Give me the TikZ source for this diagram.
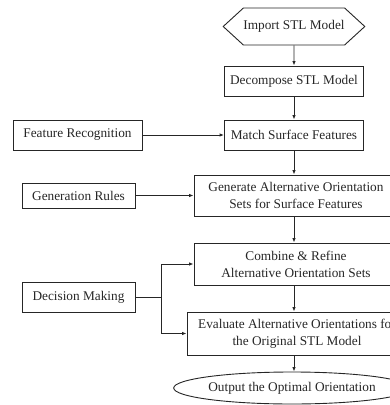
\documentclass[tikz,border=0pt]{standalone}
\usepackage{fontspec}
\setmainfont{Liberation Serif}
\usetikzlibrary{arrows.meta,shapes.geometric,shapes.symbols}

\tikzset{
	stepbox/.style={draw=black!85, line width=0.9pt, rectangle, inner sep=0pt, align=center, text=black!85, font=\fontsize{13.3}{17}\selectfont},
	hexbox/.style={stepbox, signal, signal to=west and east, signal pointer angle=85},
	endbox/.style={stepbox, ellipse},
	arr/.style={draw=black!85, line width=0.9pt, -{Latex[length=4.5pt,width=3.5pt]}},
}

\begin{document}
\begin{tikzpicture}[x=1pt, y=-1pt]
			%%%%% START %%%%%
			
			\useasboundingbox (0, 0) rectangle (390, 405);
			
			\node[hexbox, minimum width=134pt, minimum height=37pt] (import) at (294, 26.5) {Import STL Model};
			\node[stepbox, minimum width=139pt, minimum height=30pt] (decomp) at (294, 81) {Decompose STL Model};
			\node[stepbox, minimum width=139pt, minimum height=30pt] (match) at (294, 135) {Match Surface Features};
			\node[stepbox, minimum width=204pt, minimum height=41pt] (gener) at (296, 195.5) {Generate Alternative Orientation\\Sets for Surface Features};
			\node[stepbox, minimum width=204pt, minimum height=42pt] (combine) at (296, 264) {Combine \& Refine\\Alternative Orientation Sets};
			\node[stepbox, minimum width=220pt, minimum height=43pt] (eval) at (297, 333.5) {Evaluate Alternative Orientations for\\the Original STL Model};
			\node[endbox, minimum width=194pt, minimum height=32pt] (output) at (292, 388) {Output the Optimal Orientation};
			
			\node[stepbox, minimum width=129pt, minimum height=30pt] (featrec) at (77.5, 135) {Feature Recognition};
			\node[stepbox, minimum width=113pt, minimum height=25pt] (genrules) at (78.5, 195.5) {Generation Rules};
			\node[stepbox, minimum width=113pt, minimum height=30pt] (decision) at (78.5, 297) {Decision Making};
			
			\draw[arr] (import) -- (decomp);
			\draw[arr] (decomp) -- (match);
			\draw[arr] (match.south) -- (match.south |- gener.north);
			\draw[arr] (match.south |- gener.south) -- (match.south |- combine.north);
			\draw[arr] (match.south |- combine.south) -- (match.south |- eval.north);
			\draw[arr] (match.south |- eval.south) -- (match.south |- output.north);
			
			\draw[arr] (featrec) -- (match);
			\draw[arr] (genrules) -- (gener);
			
			\coordinate (split) at (161, 297);
			\draw[draw=black!85, line width=0.9pt] (decision.east) -- (split);
			\draw[arr] (split) |- (combine.west);
			\draw[arr] (split) |- (eval.west);
			
			%%%%% END %%%%%
\end{tikzpicture}
\end{document}
